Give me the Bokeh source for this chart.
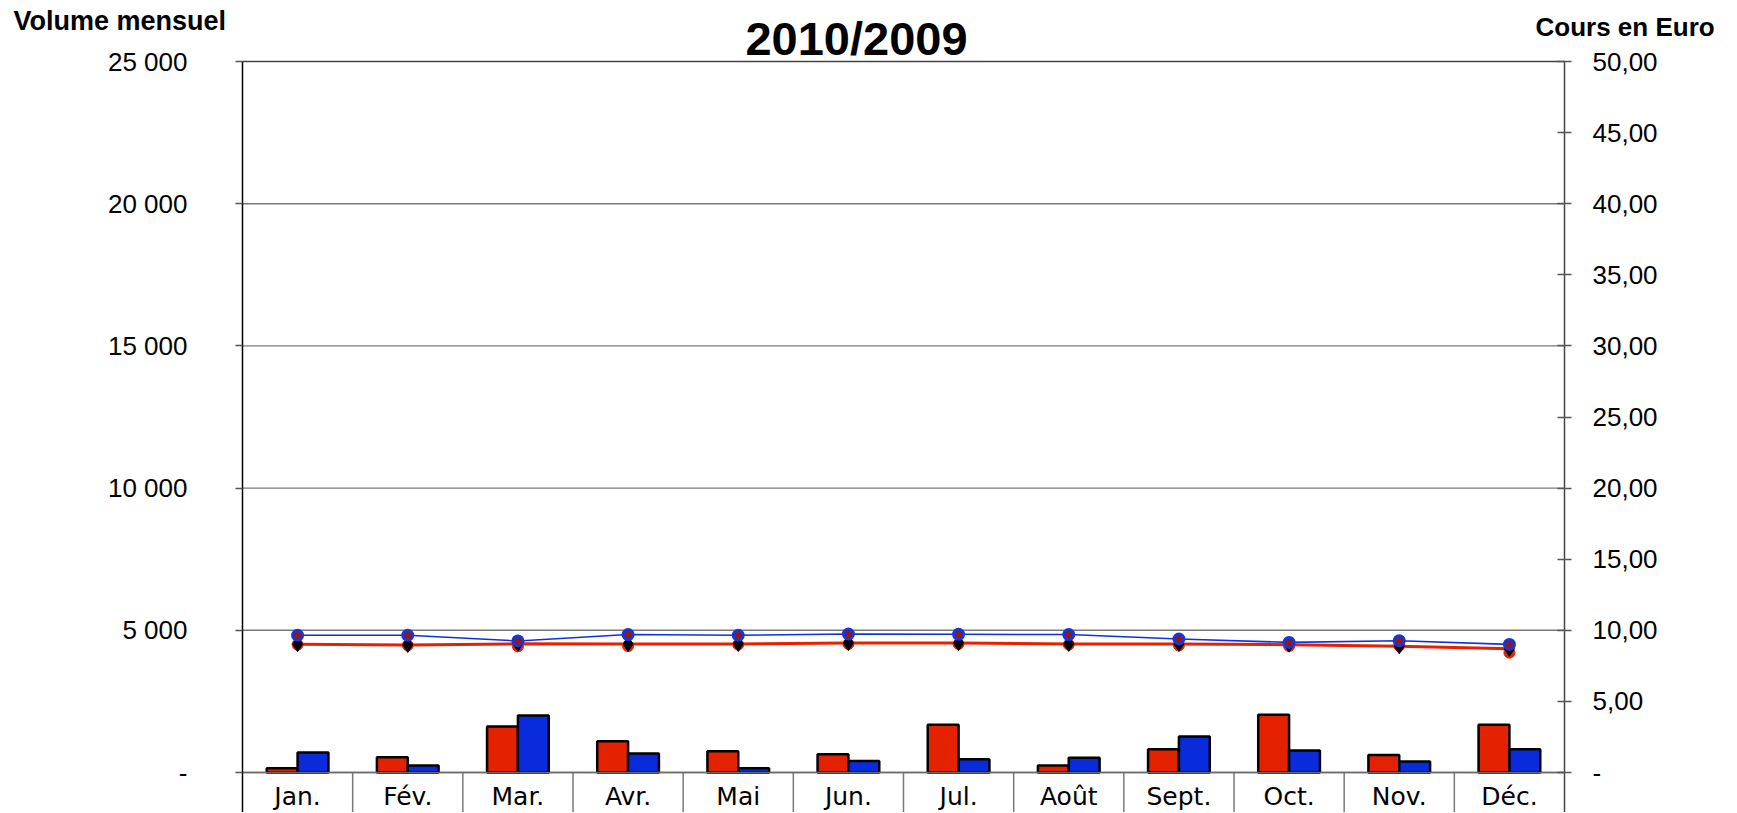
from bokeh.plotting import figure
from bokeh.models import (Range1d, LinearAxis, FixedTicker,
                          CustomJSTickFormatter, Label, ColumnDataSource)
from bokeh.transform import dodge
from bokeh.embed import file_html
from bokeh.resources import INLINE

# ---------------- data ----------------
months = ["Jan.", "Fév.", "Mar.", "Avr.", "Mai", "Jun.", "Jul.", "Août",
          "Sept.", "Oct.", "Nov.", "Déc."]
volume_red = [150, 540, 1620, 1100, 750, 645, 1680, 250, 820, 2030, 615, 1675]
volume_blue = [700, 250, 2000, 670, 150, 400, 470, 515, 1270, 770, 385, 815]
price_blue = [9.65, 9.65, 9.25, 9.70, 9.65, 9.74, 9.72, 9.70, 9.39, 9.15, 9.27, 9.01]
price_red = [9.00, 8.95, 8.87, 8.89, 9.00, 9.04, 9.04, 9.00, 8.94, 8.89, 8.92, 8.43]
price_black = [9.02, 8.97, 9.05, 9.04, 9.04, 9.10, 9.10, 9.04, 9.04, 8.99, 8.87, 8.70]
volume_ticks = [0, 5000, 10000, 15000, 20000, 25000]
price_ticks = [0, 5, 10, 15, 20, 25, 30, 35, 40, 45, 50]
title_text = "2010/2009"
left_title = "Volume mensuel"
right_title = "Cours en Euro"

# ---------------- layout (pixels) ----------------
W, H = 1736, 812
plot_left, plot_right = 242, 1564
zero_y, top_tick_y = 772, 61
n = len(months)
vol_max = volume_ticks[-1]
price_max = price_ticks[-1]
ratio = vol_max / price_max
xs = (plot_right - plot_left) / n          # px per category
ys = (zero_y - top_tick_y) / vol_max       # px per volume unit
x_start, x_end = -plot_left / xs, n + (W - plot_right) / xs
y_start, y_end = -(H - zero_y) / ys, vol_max + top_tick_y / ys

xc = [i + 0.5 for i in range(n)]
src = ColumnDataSource(dict(x=xc, month=months, vol_red=volume_red, vol_blue=volume_blue,
                            p_blue=price_blue, p_red=price_red, p_black=price_black))

p = figure(width=W, height=H,
           x_range=Range1d(x_start, x_end), y_range=Range1d(y_start, y_end),
           output_backend="svg", toolbar_location=None, min_border=0,
           min_border_left=0, min_border_right=0, min_border_top=0, min_border_bottom=0)
p.extra_y_ranges = {"price": Range1d(y_start / ratio, y_end / ratio)}
p.outline_line_color = None
p.background_fill_color = "white"
p.border_fill_color = "white"
p.xgrid.visible = False
p.ygrid.visible = False

# horizontal grid lines between the two axes
grid_colors = ["#7a7a7a"] * (len(volume_ticks) - 1) + ["#444444"]
p.segment(x0=[0] * len(volume_ticks), x1=[n] * len(volume_ticks),
          y0=volume_ticks, y1=volume_ticks, line_color=grid_colors, line_width=1.4)

# category separators below the zero line
seps = list(range(1, n))
p.segment(x0=seps, y0=[0] * len(seps), x1=seps, y1=[y_start] * len(seps),
          line_color="#7a7a7a", line_width=1.5)

# left axis
ya = p.yaxis[0]
ya.fixed_location = 0
ya.bounds = (y_start, vol_max)
ya.ticker = FixedTicker(ticks=volume_ticks)
ya.formatter = CustomJSTickFormatter(code="""
    if (tick == 0) return "-";
    return String(Math.round(tick)).replace(/\\B(?=(\\d{3})+(?!\\d))/g, " ");
""")
ya.axis_line_color = "black"
ya.axis_line_width = 1.5
ya.major_tick_line_color = "#555555"
ya.major_tick_line_width = 1.5
ya.major_tick_in = 0
ya.major_tick_out = 7
ya.minor_tick_line_color = None
ya.major_label_standoff = 48
ya.major_label_text_font = "Liberation Sans"
ya.major_label_text_font_size = "26px"
ya.major_label_text_color = "black"

# right axis
ra = LinearAxis(y_range_name="price", fixed_location=n,
                bounds=(y_start / ratio, price_max),
                ticker=FixedTicker(ticks=price_ticks),
                formatter=CustomJSTickFormatter(code="""
    if (tick == 0) return "-";
    return tick.toFixed(2).replace(".", ",");
"""))
ra.axis_line_color = "#444444"
ra.axis_line_width = 1.5
ra.major_tick_line_color = "#555555"
ra.major_tick_line_width = 1.5
ra.major_tick_in = 7
ra.major_tick_out = 7
ra.minor_tick_line_color = None
ra.major_label_standoff = 21
ra.major_label_text_font = "Liberation Sans"
ra.major_label_text_font_size = "26px"
ra.major_label_text_color = "black"
p.add_layout(ra, "right")

# x axis at zero, month names centred in each category
xa = p.xaxis[0]
xa.fixed_location = 0
xa.bounds = (0, n)
xa.ticker = FixedTicker(ticks=xc)
xa.formatter = CustomJSTickFormatter(args=dict(labels=months),
                                     code="return labels[Math.round(tick - 0.5)];")
xa.axis_line_color = "#6a6a6a"
xa.axis_line_width = 1.5
xa.major_tick_line_color = None
xa.minor_tick_line_color = None
xa.major_label_standoff = 3
xa.major_label_text_font = "DejaVu Sans"
xa.major_label_text_font_size = "25px"
xa.major_label_text_color = "black"

# bars
p.vbar(x=dodge("x", -0.14), top="vol_red", bottom=0, width=0.28,
       source=src, fill_color="#E52200", line_color="black", line_width=2.5)
p.vbar(x=dodge("x", 0.14), top="vol_blue", bottom=0, width=0.28,
       source=src, fill_color="#0A2BDC", line_color="black", line_width=2.5)

# price lines
p.scatter(x="x", y="p_red", source=src, y_range_name="price", marker="circle",
          size=11, fill_color="#E82000", line_color="#E82000")
p.line(x="x", y="p_black", source=src, y_range_name="price",
       line_color="#E82000", line_width=3)
p.scatter(x="x", y="p_black", source=src, y_range_name="price", marker="diamond",
          size=15, fill_color="black", line_color="black")
p.line(x="x", y="p_blue", source=src, y_range_name="price",
       line_color="#1030E0", line_width=1.6)
p.scatter(x="x", y="p_blue", source=src, y_range_name="price", marker="circle",
          size=10, fill_color="#8B1A1A", line_color="#1535E0", line_width=3)

# titles (canvas pixel units)
def top_text(txt, x, y, size, align):
    return Label(x=x, y=y, x_units="canvas", y_units="canvas", text=txt,
                 text_font="Liberation Sans", text_font_size=size,
                 text_font_style="bold", text_align=align,
                 text_baseline="alphabetic", text_color="black")

p.add_layout(top_text(left_title, 13, 20, "27px", "left"))
p.add_layout(top_text(right_title, 1535, 26, "26px", "left"))
p.add_layout(top_text(title_text, 856, 38, "47px", "center"))

open("out.html", "w").write(file_html(p, INLINE))
